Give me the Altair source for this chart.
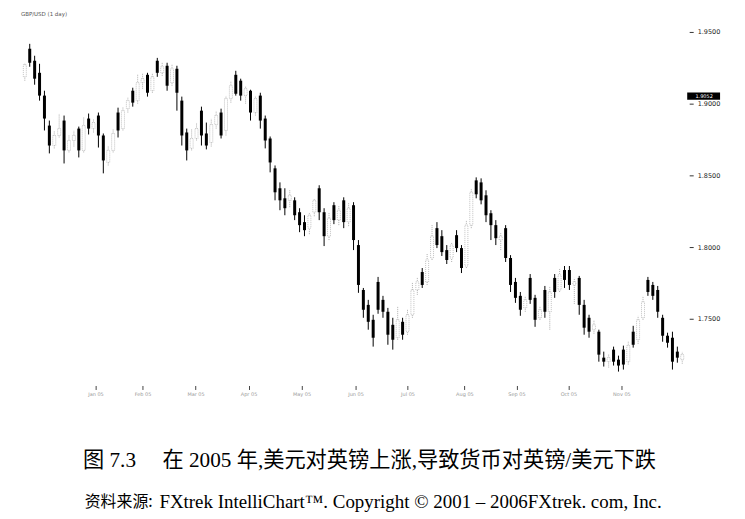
import altair as alt
import pandas as pd

opens = [1.9187, 1.9382, 1.9299, 1.9215, 1.9056, 1.8847, 1.8708, 1.8778, 1.8882, 1.8674,
         1.8743, 1.8826, 1.8674, 1.8896, 1.8826, 1.8917, 1.8778, 1.8590, 1.8674, 1.8938,
         1.8826, 1.8965, 1.9090, 1.9021, 1.9146, 1.9201, 1.9090, 1.9299, 1.9215, 1.9264,
         1.9146, 1.9243, 1.9021, 1.8799, 1.8688, 1.8757, 1.8951, 1.8792, 1.8729, 1.8854,
         1.8938, 1.8813, 1.9035, 1.9201, 1.9160, 1.9056, 1.9090, 1.8938, 1.9056, 1.8896,
         1.8757, 1.8549, 1.8410, 1.8340, 1.8326, 1.8326, 1.8243, 1.8174, 1.8132, 1.8243,
         1.8410, 1.8243, 1.8076, 1.8292, 1.8188, 1.8326, 1.8174, 1.8292, 1.8014, 1.7701,
         1.7597, 1.7493, 1.7757, 1.7632, 1.7549, 1.7458, 1.7368, 1.7479, 1.7410, 1.7528,
         1.7701, 1.7826, 1.7757, 1.7924, 1.8132, 1.8076, 1.7979, 1.7924, 1.8083, 1.7993,
         1.7868, 1.8153, 1.8465, 1.8451, 1.8361, 1.8236, 1.8153, 1.8049, 1.8132, 1.7924,
         1.7757, 1.7660, 1.7576, 1.7785, 1.7646, 1.7507, 1.7701, 1.7549, 1.7785, 1.7701,
         1.7840, 1.7840, 1.7736, 1.7785, 1.7597, 1.7507, 1.7424, 1.7410, 1.7229, 1.7201,
         1.7285, 1.7215, 1.7285, 1.7201, 1.7410, 1.7354, 1.7507, 1.7771, 1.7736, 1.7701,
         1.7507, 1.7382, 1.7368, 1.7271, 1.7215]
closes = [1.9271, 1.9285, 1.9174, 1.9056, 1.8896, 1.8708, 1.8778, 1.8826, 1.8674, 1.8743,
          1.8778, 1.8674, 1.8847, 1.8826, 1.8868, 1.8778, 1.8604, 1.8674, 1.8792, 1.8813,
          1.8951, 1.9021, 1.9007, 1.9146, 1.9174, 1.9076, 1.9187, 1.9215, 1.9257, 1.9125,
          1.9243, 1.9076, 1.8778, 1.8674, 1.8757, 1.8826, 1.8778, 1.8708, 1.8854, 1.8917,
          1.8778, 1.9035, 1.9125, 1.9069, 1.9056, 1.9104, 1.8938, 1.9035, 1.8882, 1.8743,
          1.8590, 1.8382, 1.8326, 1.8271, 1.8361, 1.8222, 1.8153, 1.8118, 1.8222, 1.8326,
          1.8243, 1.8076, 1.8201, 1.8188, 1.8257, 1.8174, 1.8271, 1.8049, 1.7736, 1.7563,
          1.7479, 1.7368, 1.7563, 1.7549, 1.7389, 1.7354, 1.7493, 1.7389, 1.7528, 1.7701,
          1.7757, 1.7736, 1.7910, 1.8076, 1.8014, 1.7965, 1.7910, 1.8014, 1.7993, 1.7854,
          1.8153, 1.8382, 1.8368, 1.8326, 1.8222, 1.8153, 1.8062, 1.8076, 1.7924, 1.7736,
          1.7646, 1.7563, 1.7632, 1.7632, 1.7493, 1.7563, 1.7549, 1.7687, 1.7687, 1.7806,
          1.7771, 1.7736, 1.7757, 1.7597, 1.7438, 1.7410, 1.7458, 1.7250, 1.7201, 1.7229,
          1.7201, 1.7174, 1.7181, 1.7313, 1.7319, 1.7493, 1.7618, 1.7687, 1.7660, 1.7549,
          1.7382, 1.7333, 1.7201, 1.7229, 1.7250]
highs = [1.9285, 1.9417, 1.9334, 1.9278, 1.9090, 1.8882, 1.8813, 1.8931, 1.8917, 1.8778,
         1.8813, 1.8840, 1.8903, 1.8931, 1.8896, 1.8938, 1.8792, 1.8708, 1.8826, 1.8972,
         1.8979, 1.9041, 1.9111, 1.9208, 1.9215, 1.9215, 1.9215, 1.9319, 1.9285, 1.9285,
         1.9271, 1.9264, 1.9049, 1.8826, 1.8826, 1.8868, 1.8979, 1.8868, 1.8896, 1.8951,
         1.8965, 1.9056, 1.9160, 1.9229, 1.9174, 1.9118, 1.9097, 1.9056, 1.9076, 1.8917,
         1.8771, 1.8569, 1.8451, 1.8410, 1.8396, 1.8347, 1.8271, 1.8222, 1.8243, 1.8340,
         1.8431, 1.8271, 1.8243, 1.8313, 1.8285, 1.8347, 1.8306, 1.8313, 1.8049, 1.7715,
         1.7632, 1.7528, 1.7792, 1.7660, 1.7576, 1.7507, 1.7583, 1.7507, 1.7563, 1.7757,
         1.7785, 1.7854, 1.7958, 1.8153, 1.8174, 1.8118, 1.8014, 1.8035, 1.8118, 1.8014,
         1.8188, 1.8410, 1.8486, 1.8479, 1.8396, 1.8257, 1.8188, 1.8104, 1.8153, 1.7944,
         1.7785, 1.7687, 1.7653, 1.7812, 1.7667, 1.7590, 1.7729, 1.7722, 1.7812, 1.7854,
         1.7868, 1.7868, 1.7785, 1.7799, 1.7632, 1.7528, 1.7493, 1.7424, 1.7271, 1.7257,
         1.7306, 1.7243, 1.7313, 1.7340, 1.7451, 1.7521, 1.7660, 1.7792, 1.7757, 1.7729,
         1.7528, 1.7403, 1.7410, 1.7306, 1.7271]
lows = [1.9160, 1.9257, 1.9132, 1.9021, 1.8813, 1.8653, 1.8688, 1.8764, 1.8583, 1.8660,
        1.8701, 1.8625, 1.8660, 1.8785, 1.8799, 1.8694, 1.8514, 1.8569, 1.8660, 1.8764,
        1.8813, 1.8938, 1.8979, 1.9000, 1.9104, 1.9049, 1.9076, 1.9187, 1.9194, 1.9090,
        1.9125, 1.8951, 1.8708, 1.8604, 1.8674, 1.8743, 1.8708, 1.8681, 1.8701, 1.8826,
        1.8757, 1.8778, 1.9007, 1.9056, 1.9021, 1.9000, 1.8882, 1.8917, 1.8826, 1.8688,
        1.8521, 1.8326, 1.8257, 1.8222, 1.8278, 1.8188, 1.8104, 1.8076, 1.8090, 1.8215,
        1.8188, 1.8007, 1.8049, 1.8160, 1.8153, 1.8132, 1.8146, 1.7979, 1.7681, 1.7507,
        1.7424, 1.7306, 1.7535, 1.7507, 1.7319, 1.7285, 1.7354, 1.7354, 1.7389, 1.7507,
        1.7667, 1.7715, 1.7736, 1.7910, 1.7993, 1.7938, 1.7882, 1.7896, 1.7965, 1.7819,
        1.7854, 1.8132, 1.8340, 1.8298, 1.8174, 1.8049, 1.8014, 1.7979, 1.7896, 1.7687,
        1.7611, 1.7521, 1.7549, 1.7604, 1.7444, 1.7493, 1.7507, 1.7424, 1.7646, 1.7687,
        1.7715, 1.7701, 1.7604, 1.7528, 1.7389, 1.7368, 1.7396, 1.7201, 1.7167, 1.7160,
        1.7174, 1.7132, 1.7146, 1.7181, 1.7299, 1.7326, 1.7493, 1.7660, 1.7632, 1.7507,
        1.7340, 1.7299, 1.7146, 1.7194, 1.7187]

month_ticks = [14.4, 24, 34.8, 45.6, 56.4, 67.4, 78, 89.6, 100.2, 110.8, 121.6]
month_labels = ["Jan 05", "Feb 05", "Mar 05", "Apr 05", "May 05", "Jun 05",
                "Jul 05", "Aug 05", "Sep 05", "Oct 05", "Nov 05"]
price_ticks = [1.75, 1.80, 1.85, 1.90, 1.95]
marker_price = [1.9052]
marker_label = ["1.9052"]

header = "GBP/USD (1 day)"
caption1 = "图 7.3　 在 2005 年,美元对英镑上涨,导致货币对英镑/美元下跌"
caption2_cn = "资料来源:"
caption2_en = "FXtrek IntelliChart™. Copyright © 2001 – 2006FXtrek. com, Inc."

df = pd.DataFrame({"i": list(range(len(closes))), "open": opens, "high": highs,
                   "low": lows, "close": closes})
df["dir"] = ["up" if c >= o else "down" for o, c in zip(opens, closes)]

lab_expr = ("[" + ",".join("'%s'" % s for s in month_labels) + "][indexof(["
            + ",".join(str(v) for v in month_ticks) + "], datum.value)]")

xs = alt.Scale(domain=[-1.4, 134.4], nice=False, zero=False)
ys = alt.Scale(domain=[1.7035, 1.9604], nice=False, zero=False)
x_axis = alt.Axis(values=month_ticks, labelExpr=lab_expr, domain=False, grid=False,
                  tickSize=4, tickColor="#444", labelFontSize=5, labelColor="#999",
                  labelPadding=2, title=None, labelFont="DejaVu Sans")
y_axis = alt.Axis(orient="right", values=price_ticks, format=".4f", domain=False,
                  grid=False, tickSize=4, tickColor="#333", labelFontSize=6.5,
                  labelColor="#222", labelPadding=4, title=None,
                  labelFont="DejaVu Sans")

X = alt.X("i:Q", scale=xs, axis=x_axis)
base = alt.Chart(df)

wick_down = base.transform_filter("datum.dir == 'down'").mark_rule(
    color="black", strokeWidth=1).encode(
    x=X, y=alt.Y("low:Q", scale=ys, axis=y_axis), y2="high:Q")
wick_up = base.transform_filter("datum.dir == 'up'").mark_rule(
    color="#9a9a9a", strokeWidth=0.8, strokeDash=[1, 1]).encode(
    x=X, y=alt.Y("low:Q", scale=ys, axis=y_axis), y2="high:Q")
body_down = base.transform_filter("datum.dir == 'down'").mark_bar(
    width=3, color="black").encode(
    x=X, y=alt.Y("open:Q", scale=ys, axis=y_axis), y2="close:Q")
body_up = base.transform_filter("datum.dir == 'up'").mark_bar(
    width=3, fill="white", stroke="#9a9a9a", strokeWidth=0.6,
    strokeDash=[1, 1]).encode(
    x=X, y=alt.Y("open:Q", scale=ys, axis=y_axis), y2="close:Q")

mdf = pd.DataFrame({"p": marker_price, "lab": marker_label})
marker_box = alt.Chart(mdf).transform_calculate(
    top="datum.p + 0.0025", bot="datum.p - 0.0025").mark_rect(color="black").encode(
    x=alt.value(677), x2=alt.value(710),
    y=alt.Y("top:Q", scale=ys, axis=y_axis), y2="bot:Q")
marker_txt = alt.Chart(mdf).mark_text(color="white", fontSize=5, align="center",
                                      baseline="middle", font="DejaVu Sans").encode(
    x=alt.value(694), y=alt.Y("p:Q", scale=ys, axis=y_axis), text="lab:N")

head = alt.Chart(pd.DataFrame({"t": [header]})).mark_text(
    align="left", baseline="middle", fontSize=5.5, color="#555",
    font="DejaVu Sans").encode(x=alt.value(8), y=alt.value(-3), text="t:N")
cap1 = alt.Chart(pd.DataFrame({"t": [caption1]})).mark_text(
    align="center", baseline="middle", fontSize=21.3, color="black",
    font="Liberation Serif, Noto Sans CJK SC").encode(
    x=alt.value(358), y=alt.value(446), text="t:N")
cap2a = alt.Chart(pd.DataFrame({"t": [caption2_cn]})).mark_text(
    align="left", baseline="middle", fontSize=16, color="black",
    font="Noto Sans CJK SC").encode(
    x=alt.value(72), y=alt.value(487), text="t:N")
cap2b = alt.Chart(pd.DataFrame({"t": [caption2_en]})).mark_text(
    align="left", baseline="middle", fontSize=19, color="black",
    font="Liberation Serif").encode(
    x=alt.value(147), y=alt.value(487), text="t:N")

chart = alt.layer(wick_up, body_up, wick_down, body_down, marker_box, marker_txt,
                  head, cap1, cap2a, cap2b).properties(
    width=679, height=370,
    autosize=alt.AutoSizeParams(type="none"),
    padding={"left": 5, "top": 8, "right": 48, "bottom": 130},
    background="white",
).configure_view(stroke=None)

chart.save("out.html", embed_options={"renderer": "svg", "actions": False})
